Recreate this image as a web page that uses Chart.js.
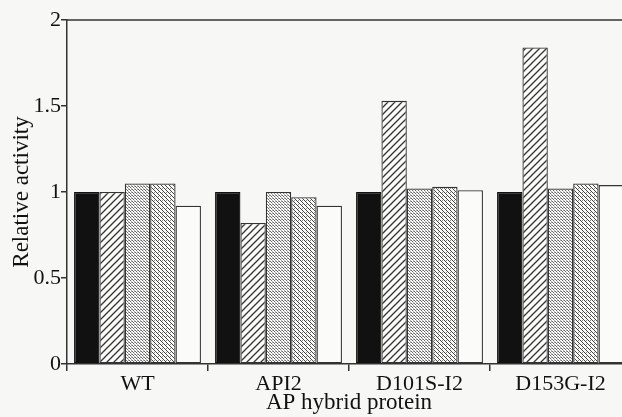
<!DOCTYPE html>
<html>
<head>
<meta charset="utf-8">
<script src="https://cdn.jsdelivr.net/npm/chart.js@4"></script>
<style>
  html, body { margin: 0; padding: 0; background: #f7f7f5; overflow: hidden; }
  .wrap { width: 622px; height: 417px; overflow: hidden; }
  .inner { width: 640px; height: 417px; }
</style>
</head>
<body>
<div class="wrap"><div class="inner"><canvas id="myChart" width="640" height="417"></canvas></div></div>
<script>
const proteins = ['WT', 'API2', 'D101S-I2', 'D153G-I2'];
const solidValues = [1, 1, 1, 1];
const slashValues = [1, 0.82, 1.53, 1.84];
const dottedValues = [1.05, 1.0, 1.02, 1.02];
const backslashValues = [1.05, 0.97, 1.03, 1.05];
const openValues = [0.92, 0.92, 1.01, 1.04];
const yTicks = [0, 0.5, 1, 1.5, 2];

function makePattern(size, draw) {
    const c = document.createElement('canvas');
    c.width = size; c.height = size;
    const g = c.getContext('2d');
    g.fillStyle = '#fbfbf9';
    g.fillRect(0, 0, size, size);
    draw(g, size);
    return document.getElementById('myChart').getContext('2d').createPattern(c, 'repeat');
}

const slashPattern = makePattern(7, (g, s) => {
    g.strokeStyle = '#333';
    g.lineWidth = 1.3;
    g.beginPath();
    g.moveTo(-1, s + 1); g.lineTo(s + 1, -1);
    g.moveTo(-1, 1); g.lineTo(1, -1);
    g.moveTo(s - 1, s + 1); g.lineTo(s + 1, s - 1);
    g.stroke();
});

const dottedPattern = makePattern(3, (g) => {
    g.fillStyle = '#666';
    g.fillRect(0, 0, 1, 1);
    g.fillRect(1, 1, 1, 1);
    g.fillStyle = '#aaa';
    g.fillRect(2, 2, 1, 1);
    g.fillRect(2, 0, 1, 1);
});

const backslashPattern = makePattern(4, (g) => {
    g.fillStyle = '#444';
    g.fillRect(0, 0, 1, 1);
    g.fillRect(1, 1, 1, 1);
    g.fillRect(2, 2, 1, 1);
    g.fillRect(3, 3, 1, 1);
    g.fillStyle = '#888';
    g.fillRect(2, 0, 1, 1);
});

const frameTop = {
    id: 'frameTop',
    afterDraw(chart) {
        const { ctx, chartArea } = chart;
        ctx.save();
        ctx.strokeStyle = '#333';
        ctx.lineWidth = 1.5;
        ctx.beginPath();
        ctx.moveTo(chartArea.left, chartArea.top);
        ctx.lineTo(chartArea.right, chartArea.top);
        ctx.stroke();
        ctx.restore();
    }
};

const barStyle = { borderColor: '#333', borderWidth: 1.3, borderSkipped: false };
const serif = 'Liberation Serif';

new Chart(document.getElementById('myChart'), {
    type: 'bar',
    data: {
        labels: proteins,
        datasets: [
            { label: 'solid', data: solidValues, backgroundColor: '#111', ...barStyle, borderColor: '#111' },
            { label: 'slash', data: slashValues, backgroundColor: slashPattern, ...barStyle },
            { label: 'dotted', data: dottedValues, backgroundColor: dottedPattern, ...barStyle },
            { label: 'backslash', data: backslashValues, backgroundColor: backslashPattern, ...barStyle },
            { label: 'open', data: openValues, backgroundColor: '#fbfbf9', ...barStyle }
        ]
    },
    options: {
        responsive: false,
        animation: false,
        layout: { padding: { top: 20, right: 9, left: 0, bottom: 0 } },
        plugins: { legend: { display: false }, tooltip: { enabled: false } },
        datasets: { bar: { barPercentage: 1, categoryPercentage: 0.9 } },
        scales: {
            x: {
                grid: { offset: true, drawOnChartArea: false, drawTicks: true, tickLength: 7, color: '#333', lineWidth: 1.5 },
                border: { display: true, color: '#333', width: 1.5 },
                ticks: { font: { family: serif, size: 22 }, color: '#111', padding: 0 },
                title: { display: true, text: 'AP hybrid protein', font: { family: serif, size: 23 }, color: '#111', padding: { top: -5, bottom: 0 } },
                afterFit(scale) { scale.height = 53; }
            },
            y: {
                min: 0, max: 2,
                afterBuildTicks(scale) { scale.ticks = yTicks.map(v => ({ value: v })); },
                grid: { drawOnChartArea: false, drawTicks: true, tickLength: 6, color: '#333', lineWidth: 1.5 },
                border: { display: true, color: '#333', width: 1.5 },
                ticks: { font: { family: serif, size: 22 }, color: '#111', padding: 0, callback: v => String(v) },
                title: { display: true, text: 'Relative activity', font: { family: serif, size: 23 }, color: '#111', padding: { top: 8, bottom: 0 } },
                afterFit(scale) { scale.width = 67; }
            }
        }
    },
    plugins: [frameTop]
});
</script>
</body>
</html>
